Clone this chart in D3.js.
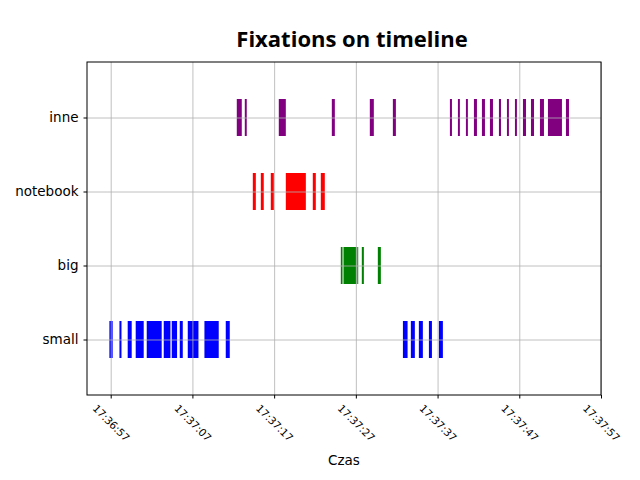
<!DOCTYPE html>
<html>
<head>
<meta charset="utf-8">
<script src="https://cdn.jsdelivr.net/npm/d3@7"></script>
<style>
  body { margin: 0; background: #fff; }
  svg text { font-family: "DejaVu Sans", sans-serif; }
</style>
</head>
<body>
<div id="chart"></div>
<script>
// categories, bottom to top
var categories = ["small", "big", "notebook", "inne"];
var colors = ["blue", "green", "red", "purple"];

// fixation start (seconds after 17:36:57) and duration (seconds)
var smallStart = [-0.16, 1.07, 2.08, 3.06, 4.41, 6.49, 7.47, 8.45, 9.43, 11.47, 14.08, 35.76, 36.73, 37.71, 38.94, 40.16];
var smallDur   = [0.40, 0.25, 0.49, 0.98, 1.83, 0.82, 0.65, 0.37, 1.31, 1.75, 0.49, 0.57, 0.49, 0.49, 0.37, 0.49];

var bigStart = [28.16, 28.49, 30.17, 30.73, 32.69];
var bigDur   = [0.21, 1.60, 0.12, 0.25, 0.37];

var notebookStart = [17.39, 18.37, 19.59, 21.43, 24.73, 25.71];
var notebookDur   = [0.37, 0.36, 0.37, 2.45, 0.37, 0.49];

var inneStart = [15.43, 16.41, 20.57, 27.06, 31.71, 34.53, 41.51, 42.49, 43.47, 44.45, 45.43, 46.41, 47.51, 48.49, 49.47, 50.45, 51.43, 52.53, 53.51, 55.71];
var inneDur   = [0.61, 0.24, 0.86, 0.37, 0.49, 0.37, 0.25, 0.24, 0.24, 0.37, 0.37, 0.37, 0.25, 0.24, 0.24, 0.37, 0.37, 0.49, 1.71, 0.37];

var tickLabels = ["17:36:57", "17:37:07", "17:37:17", "17:37:27", "17:37:37", "17:37:47", "17:37:57"];

var starts = [smallStart, bigStart, notebookStart, inneStart];
var durs = [smallDur, bigDur, notebookDur, inneDur];

var margin = {top: 62, right: 39, bottom: 85, left: 87}
  , width = 640 - margin.left - margin.right
  , height = 480 - margin.top - margin.bottom;

var parse = d3.timeParse("%H:%M:%S");
var base = parse(tickLabels[0]);
function at(s) { return new Date(base.getTime() + s * 1000); }

var xScale = d3.scaleTime()
  .domain([at(-2.9), at(60)])
  .range([0, width]);

var yScale = d3.scaleLinear()
  .domain([-0.75, 3.75])
  .range([height, 0]);

var tickDates = tickLabels.map(parse);

var svg = d3.select("#chart").append("svg")
  .attr("width", 640)
  .attr("height", 480)
  .append("g")
  .attr("transform", "translate(" + margin.left + "," + margin.top + ")");

// bars
var rows = [];
categories.forEach(function(c, i) {
  starts[i].forEach(function(s, j) {
    rows.push({cat: i, start: s, dur: durs[i][j]});
  });
});

svg.selectAll("rect.fix")
  .data(rows)
  .enter().append("rect")
  .attr("class", "fix")
  .attr("x", function(d) { return xScale(at(d.start)); })
  .attr("width", function(d) { return xScale(at(d.start + d.dur)) - xScale(at(d.start)); })
  .attr("y", function(d) { return yScale(d.cat + 0.25); })
  .attr("height", function(d) { return yScale(d.cat - 0.25) - yScale(d.cat + 0.25); })
  .attr("fill", function(d) { return colors[d.cat]; });

// grid
svg.append("g")
  .attr("class", "grid")
  .attr("transform", "translate(0," + height + ")")
  .call(d3.axisBottom(xScale).tickValues(tickDates).tickSize(-height).tickFormat(""))
  .call(function(g) { g.select(".domain").remove(); })
  .selectAll("line").attr("stroke", "#b0b0b0").attr("stroke-width", 0.8);

svg.append("g")
  .attr("class", "grid")
  .call(d3.axisLeft(yScale).tickValues([0, 1, 2, 3]).tickSize(-width).tickFormat(""))
  .call(function(g) { g.select(".domain").remove(); })
  .selectAll("line").attr("stroke", "#b0b0b0").attr("stroke-width", 0.8);

// x axis
var xAxis = svg.append("g")
  .attr("transform", "translate(0," + height + ")")
  .call(d3.axisBottom(xScale).tickValues(tickDates).tickSize(3.5).tickFormat(function(d, i) { return tickLabels[i]; }));
xAxis.select(".domain").remove();
xAxis.selectAll("text")
  .attr("font-size", "10.5px")
  .attr("fill", "#000")
  .attr("text-anchor", "middle")
  .attr("dy", "0.35em")
  .attr("y", 0)
  .attr("transform", "translate(0,28) rotate(45)");

// y axis
var yAxis = svg.append("g")
  .call(d3.axisLeft(yScale).tickValues([0, 1, 2, 3]).tickSize(3.5).tickPadding(5).tickFormat(function(d) { return categories[d]; }));
yAxis.select(".domain").remove();
yAxis.selectAll("text").attr("font-size", "13.5px").attr("fill", "#000");

// frame
svg.append("rect")
  .attr("width", width)
  .attr("height", height)
  .attr("fill", "none")
  .attr("stroke", "#000")
  .attr("stroke-width", 1);

svg.append("text")
  .attr("x", width / 2 + 8)
  .attr("y", -15)
  .attr("text-anchor", "middle")
  .attr("font-size", "22px")
  .attr("font-weight", "bold")
  .style("font-family", "'Open Sans', sans-serif")
  .text("Fixations on timeline");

svg.append("text")
  .attr("x", width / 2)
  .attr("y", height + 70)
  .attr("text-anchor", "middle")
  .attr("font-size", "13.5px")
  .text("Czas");
</script>
</body>
</html>
